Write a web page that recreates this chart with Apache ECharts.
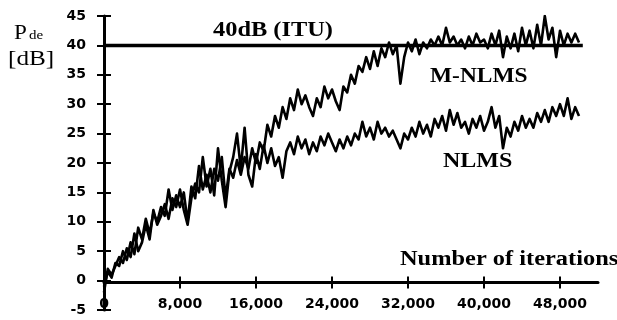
<!DOCTYPE html>
<html>
<head>
<meta charset="utf-8">
<script src="https://cdn.jsdelivr.net/npm/echarts@6/dist/echarts.min.js"></script>
<style>
  html, body { margin: 0; padding: 0; background: #fff; }
  #chart { width: 617px; height: 320px; }
</style>
</head>
<body>
<div id="chart"></div>
<script>
// samples are taken every 400 iterations, from 0 to 50000
const iterStep = 400;

const mnlms = [
  -1, 1.5, 0.5, 3, 2.5, 5, 3.5, 6.5, 4.5, 9,
  7, 10.5, 8, 11.5, 10, 12.5, 11, 15.5, 12, 14.5,
  12.5, 15, 10, 16, 14, 19.5, 15.5, 18, 15, 19,
  17, 21, 14, 19, 17.5, 20.5, 18, 21, 19, 22.5,
  20, 23.5, 22, 26.5, 24.5, 28, 26, 29.5, 27.5, 31,
  29, 32.5, 30, 31.5, 29.5, 28, 31, 29.5, 33, 31,
  32.5, 30.5, 29, 33, 32, 35, 33.5, 36.5, 35.5, 38,
  36, 39, 36.5, 39.5, 38, 40.5, 38.5, 40, 33.5, 38,
  40.5, 39, 41, 38.5, 40.5, 39.5, 41, 40, 41.5, 40,
  43, 40.5, 41.5, 40, 41, 39.5, 41.5, 40, 42, 40.5,
  41, 39.5, 42, 40, 42.5, 38, 41.5, 39.5, 42, 39,
  43, 40, 42.5, 39.5, 43.5, 40, 45, 41, 43, 38,
  42.5, 40, 42, 40.5, 42, 40.5
];

const nlms = [
  -2, 2, 1, 2.5, 4, 3, 5.5, 4, 8, 5,
  6.5, 9.5, 7, 12, 9.5, 11, 13, 10.5, 14, 12.5,
  15.5, 12, 9.5, 14, 16.5, 15, 21, 16, 19, 14.5,
  22.5, 17, 12.5, 18.5, 21, 25, 19, 26, 18, 16,
  21.5, 19, 23, 20, 22.5, 19.5, 21, 17.5, 22, 23.5,
  21.5, 24.5, 22.5, 24, 21.5, 23.5, 22, 24.5, 23, 25,
  23.5, 22, 24, 22.5, 24.5, 23, 25, 24, 27, 24.5,
  26, 24, 27, 25, 26, 24.5, 25.5, 24, 22.5, 25,
  24, 26, 24.5, 27, 25, 26.5, 24.5, 27.5, 26, 28,
  25.5, 29, 26.5, 28.5, 26, 27, 25, 27.5, 26, 28,
  25.5, 27, 29.5, 26, 28, 22.5, 26, 24.5, 27, 25.5,
  28, 26, 27.5, 26, 28.5, 27, 29, 27, 29.5, 28,
  30, 28, 31, 27.5, 29.5, 28
];

// ITU requirement line
const ituLevel = 40;
const ituSpan = [0, 50400];

const xTicks = [0, 8000, 16000, 24000, 32000, 40000, 48000];
const xMax = 52000;
const yMin = -5;
const yMax = 45;
const yStep = 5;

const toPairs = (arr) => arr.map((v, i) => [i * iterStep, v]);

const chart = echarts.init(document.getElementById("chart"), null, { renderer: "canvas" });

const labelFont = {
  color: "#000",
  fontFamily: "DejaVu Sans",
  fontWeight: "bold",
  fontSize: 14,
};

function serifText(text, x, y, size, sx, weight) {
  return {
    type: "text",
    x: x,
    y: y,
    scaleX: sx,
    style: {
      text: text,
      font: (weight || "normal") + " " + size + 'px "Liberation Serif"',
      fill: "#000",
      textAlign: "left",
      textVerticalAlign: "middle",
    },
  };
}

const axisX = (inside) => ({
  type: "value",
  min: 0,
  max: xMax,
  position: "bottom",
  axisLine: { show: !inside, onZero: false, lineStyle: { color: "#000", width: 3 } },
  axisTick: { show: true, inside: inside, length: 6, customValues: xTicks, lineStyle: { color: "#000", width: 2 } },
  axisLabel: { show: !inside, customValues: xTicks, margin: 15, ...labelFont },
  splitLine: { show: false },
});

const axisY = (inside) => ({
  type: "value",
  min: yMin,
  max: yMax,
  interval: yStep,
  position: "left",
  axisLine: { show: !inside, onZero: false, lineStyle: { color: "#000", width: 3 } },
  axisTick: { show: true, inside: inside, length: 7, lineStyle: { color: "#000", width: 2 } },
  axisLabel: { show: !inside, margin: 18, ...labelFont },
  splitLine: { show: false },
});

const curveStyle = { color: "#000", width: 2.6, join: "round" };

const option = {
  animation: false,
  grid: { left: 104, right: 19, top: 16, bottom: 10 },
  xAxis: [axisX(false), axisX(true)],
  yAxis: [axisY(false), axisY(true)],
  series: [
    {
      name: "ITU",
      type: "line",
      data: ituSpan.map((x) => [x, ituLevel]),
      showSymbol: false,
      lineStyle: { color: "#000", width: 3.5 },
      z: 3,
    },
    {
      name: "M-NLMS",
      type: "line",
      data: toPairs(mnlms),
      showSymbol: false,
      lineStyle: curveStyle,
      z: 4,
    },
    {
      name: "NLMS",
      type: "line",
      data: toPairs(nlms),
      showSymbol: false,
      lineStyle: curveStyle,
      z: 4,
    },
  ],
  graphic: [
    serifText("P", 14, 33, 21, 1.1),
    serifText("de", 29, 36, 13, 1.15),
    serifText("[dB]", 8, 59, 21, 1.2),
    serifText("40dB (ITU)", 213, 31, 20, 1.22, "bold"),
    serifText("M-NLMS", 430, 77, 20, 1.17, "bold"),
    serifText("NLMS", 443, 162, 20, 1.2, "bold"),
    serifText("Number of iterations", 400, 260, 20, 1.22, "bold"),
  ],
};

chart.setOption(option);

// put the x axis on the zero line, using the y scale
const zeroY = chart.convertToPixel({ yAxisIndex: 0 }, 0);
const bottomY = chart.convertToPixel({ yAxisIndex: 0 }, yMin);
chart.setOption({
  xAxis: [{ offset: zeroY - bottomY }, { offset: zeroY - bottomY }],
});
</script>
</body>
</html>
